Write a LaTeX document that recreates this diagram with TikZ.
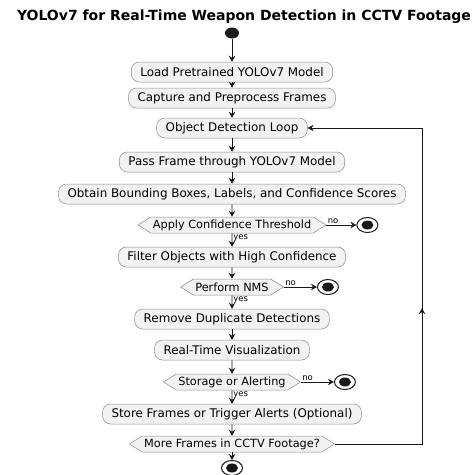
\documentclass[tikz,border=0pt]{standalone}
\usepackage{fontspec}
\setmainfont{DejaVu Sans}
\usetikzlibrary{positioning, shapes.geometric, shapes.symbols, arrows.meta, calc}

\begin{document}
\begin{tikzpicture}[
    x=1pt, y=1pt,
    on grid,
    font=\fontsize{11.9}{13}\selectfont,
    >={Stealth[length=6pt,width=6.5pt,inset=2pt]},
    flow/.style={draw=black!90, line width=0.8pt},
    action/.style={rectangle, rounded corners=8pt, draw=gray!90, fill=gray!10,
        line width=0.5pt, minimum height=20pt, inner xsep=9pt, inner ysep=0pt},
    choice/.style={signal, signal to=west and east, signal pointer angle=64,
        draw=gray!90, fill=gray!10, line width=0.5pt, minimum height=16pt,
        inner xsep=2pt, inner ysep=0pt, font=\fontsize{11.3}{12}\selectfont},
    startdot/.style={ellipse, fill=black!90, minimum width=14pt,
        minimum height=11pt, inner sep=0pt},
    stopdot/.style={ellipse, draw=black!90, line width=1pt, fill=white,
        minimum width=21pt, minimum height=15pt, inner sep=0pt,
        path picture={\fill[black!90] (path picture bounding box.center)
            ellipse (6pt and 4.5pt);}},
    lbl/.style={font=\fontsize{8.5}{10}\selectfont, inner sep=1pt}
]
    \useasboundingbox (0,0) rectangle (475,-475);

    % Title
    \node[font=\bfseries\fontsize{14}{16}\selectfont] (title) at (244,-17)
        {YOLOv7 for Real-Time Weapon Detection in CCTV Footage};

    % Define nodes
    \node[startdot] (start) at (232,-33) {};
    \node[action, below=39pt of start] (load) {Load Pretrained YOLOv7 Model};
    \node[action, below=26pt of load] (capture) {Capture and Preprocess Frames};
    \node[action, below=30pt of capture] (loop) {Object Detection Loop};
    \node[action, below=34pt of loop] (pass) {Pass Frame through YOLOv7 Model};
    \node[action, below=32pt of pass] (obtain) {Obtain Bounding Boxes, Labels, and Confidence Scores};
    \node[choice, below=31pt of obtain] (thresh) {Apply Confidence Threshold};
    \node[stopdot, right=30pt of thresh.east] (stop_thresh) {};
    \node[action, below=32pt of thresh] (filter) {Filter Objects with High Confidence};
    \node[choice, below=30pt of filter] (nms) {Perform NMS};
    \node[stopdot, right=33pt of nms.east] (stop_nms) {};
    \node[action, below=32pt of nms] (dedup) {Remove Duplicate Detections};
    \node[action, below=31pt of dedup] (vis) {Real-Time Visualization};
    \node[choice, below=32pt of vis] (store_q) {Storage or Alerting};
    \node[stopdot, right=33pt of store_q.east] (stop_store) {};
    \node[action, below=32pt of store_q] (store) {Store Frames or Trigger Alerts (Optional)};
    \node[choice, below=30pt of store] (more) {More Frames in CCTV Footage?};
    \node[stopdot, below=24pt of more] (stop) {};
    \coordinate (rail) at (422,0);

    % Transitions
    \path[->, every edge/.append style={flow}]
        (start) edge (load)
        (load) edge (capture)
        (capture) edge (loop)
        (loop) edge (pass)
        (pass) edge (obtain)
        (obtain) edge (thresh)
        (thresh) edge node[lbl, anchor=north west, pos=0] {yes} (filter)
        (thresh.east) edge node[lbl, anchor=south west, pos=0] {no} (stop_thresh)
        (filter) edge (nms)
        (nms) edge node[lbl, anchor=north west, pos=0] {yes} (dedup)
        (nms.east) edge node[lbl, anchor=south west, pos=0] {no} (stop_nms)
        (dedup) edge (vis)
        (vis) edge (store_q)
        (store_q) edge node[lbl, anchor=north west, pos=0] {yes} (store)
        (store_q.east) edge node[lbl, anchor=south west, pos=0] {no} (stop_store)
        (store) edge (more)
        (more) edge (stop);

    % Loop back
    \draw[flow, ->] (more.east) -- (more.east -| rail)
        -- ($(more.east -| rail)!0.43!(loop.east -| rail)$);
    \draw[flow, ->] ($(more.east -| rail)!0.42!(loop.east -| rail)$)
        -- (loop.east -| rail) -- (loop.east);
\end{tikzpicture}
\end{document}
